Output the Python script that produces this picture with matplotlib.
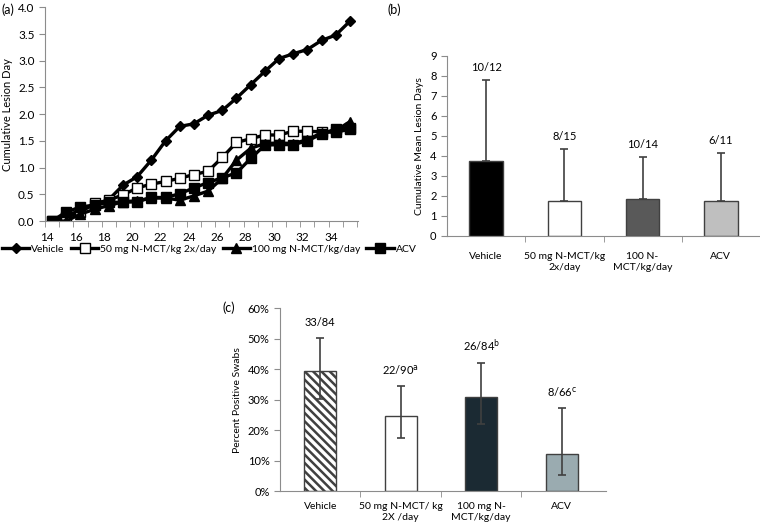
import matplotlib.pyplot as plt
import numpy as np

plt.rcParams['font.family'] = ['Lato', 'DejaVu Sans']
plt.rcParams['hatch.linewidth'] = 1.8
plt.rcParams['hatch.color'] = 'black'

# panel (a) cumulative lesion days
days = np.arange(14, 36)
vehicle_a = [0, 0.1, 0.2, 0.3, 0.4, 0.67, 0.83, 1.14, 1.5, 1.77, 1.82, 1.98, 2.07, 2.3,
             2.55, 2.8, 3.04, 3.13, 3.21, 3.38, 3.48, 3.74]
mct50_a = [0, 0.07, 0.17, 0.33, 0.39, 0.49, 0.62, 0.69, 0.74, 0.8, 0.87, 0.93, 1.19, 1.47,
           1.54, 1.61, 1.61, 1.68, 1.68, 1.67, 1.66, 1.72]
mct100_a = [0, 0.0, 0.13, 0.22, 0.29, 0.36, 0.38, 0.43, 0.43, 0.39, 0.47, 0.56, 0.8, 1.14,
            1.36, 1.45, 1.46, 1.45, 1.52, 1.65, 1.69, 1.86]
acv_a = [0, 0.17, 0.26, 0.3, 0.35, 0.35, 0.36, 0.44, 0.44, 0.51, 0.62, 0.72, 0.81, 0.9,
         1.17, 1.42, 1.43, 1.43, 1.5, 1.63, 1.72, 1.74]
legend_a = ['Vehicle', '50 mg N-MCT/kg 2x/day', '100 mg N-MCT/kg/day', 'ACV']

# panel (b) cumulative mean lesion days
groups_b = ['Vehicle', '50 mg N-MCT/kg\n2x/day', '100 N-\nMCT/kg/day', 'ACV']
mean_b = [3.75, 1.75, 1.85, 1.75]
sd_b = [4.05, 2.6, 2.1, 2.4]
counts_b = ['10/12', '8/15', '10/14', '6/11']

# panel (c) percent positive swabs
groups_c = ['Vehicle', '50 mg N-MCT/ kg\n2X /day', '100 mg N-\nMCT/kg/day', 'ACV']
pct_c = [39.4, 24.5, 31.0, 12.2]
err_lo_c = [9.2, 7.0, 9.0, 7.0]
err_hi_c = [11.0, 10.0, 11.1, 15.1]
counts_c = ['33/84', '22/90$^{\\mathrm{a}}$', '26/84$^{\\mathrm{b}}$', '8/66$^{\\mathrm{c}}$']

axis_col = '#8c8c8c'
fig = plt.figure(figsize=(7.6, 5.25), dpi=100)

# ---- (a)
ax = fig.add_axes([45/760, 1-221/525, 313/760, 213.7/525])
series = [(vehicle_a, 'D', 'black', 5.5), (mct50_a, 's', 'white', 7.5),
          (mct100_a, '^', 'black', 7.5), (acv_a, 's', 'black', 7.5)]
for (vals, mk, fc, ms), lab in zip(series, legend_a):
    ax.plot(days, vals, color='black', lw=2.4, marker=mk, ms=ms, mfc=fc,
            mec='black', mew=1.0, label=lab)
ax.set_xlim(13.53, 35.57)
ax.set_ylim(0, 4.0)
ax.set_yticks(np.arange(0, 4.01, 0.5))
ax.set_yticklabels(['%.1f' % v for v in np.arange(0, 4.01, 0.5)], fontsize=8.5)
ax.set_xticks(days[::2] - 0.35)
ax.set_xticklabels([str(d) for d in days[::2]], fontsize=8.5)
ax.set_xticks(np.arange(13.5, 36, 1), minor=True)
ax.tick_params(axis='x', which='major', length=0, pad=8)
ax.tick_params(axis='x', which='minor', length=4, color=axis_col, direction='out')
ax.tick_params(axis='y', length=4, color=axis_col, direction='out')
for s in ['top', 'right']:
    ax.spines[s].set_visible(False)
for s in ['left', 'bottom']:
    ax.spines[s].set_color(axis_col)
ax.set_ylabel('Cumulative Lesion Day', fontsize=8)
ax.legend(loc='upper left', bbox_to_anchor=(-0.15, -0.09), ncol=4, frameon=False,
          fontsize=7.5, handlelength=2.6, columnspacing=0.6, handletextpad=0.2,
          borderaxespad=0)
fig.text(2/760, 1-14/525, '(a)', fontsize=9)

# ---- (b)
ax = fig.add_axes([447/760, 1-235.7/525, 313/760, 179.7/525])
xb = np.arange(4)
ax.bar(xb, mean_b, width=0.43, color=['black', 'white', '#595959', '#bfbfbf'],
       edgecolor='#404040', lw=1.0)
ax.errorbar(xb, mean_b, yerr=[np.zeros(4), sd_b], fmt='none', ecolor='#404040',
            elinewidth=1.2, capsize=3, capthick=1.2)
for i in range(4):
    ax.text(xb[i], mean_b[i] + sd_b[i] + 0.35, counts_b[i], ha='center', va='bottom',
            fontsize=8)
ax.set_xlim(-0.5, 3.5)
ax.set_ylim(0, 9)
ax.set_yticks(range(10))
ax.tick_params(axis='y', labelsize=8, length=4, color=axis_col)
ax.set_xticks(xb)
ax.set_xticklabels(groups_b, fontsize=7.5, va='top')
ax.set_xticks([0.5, 1.5, 2.5], minor=True)
ax.tick_params(axis='x', which='major', length=0, pad=12)
ax.tick_params(axis='x', which='minor', length=4, color=axis_col)
for s in ['top', 'right']:
    ax.spines[s].set_visible(False)
for s in ['left', 'bottom']:
    ax.spines[s].set_color(axis_col)
ax.set_ylabel('Cumulative Mean Lesion Days', fontsize=7.5)
fig.text(387/760, 1-14/525, '(b)', fontsize=9)

# ---- (c)
ax = fig.add_axes([280/760, 1-491/525, 326/760, 182.7/525])
xc = np.arange(4)
bars = ax.bar(xc, pct_c, width=0.4, color=['white', 'white', '#1b2a33', '#9aabb0'],
              edgecolor='#404040', lw=1.0)
bars[0].set_hatch('\\\\\\\\')
ax.errorbar(xc, pct_c, yerr=[err_lo_c, err_hi_c], fmt='none', ecolor='#404040',
            elinewidth=1.2, capsize=3, capthick=1.2)
for i in range(4):
    ax.text(xc[i], pct_c[i] + err_hi_c[i] + 3.0, counts_c[i], ha='center', va='bottom',
            fontsize=8)
ax.set_xlim(-0.5, 3.55)
ax.set_ylim(0, 60)
ax.set_yticks(range(0, 61, 10))
ax.set_yticklabels(['%d%%' % v for v in range(0, 61, 10)])
ax.tick_params(axis='y', labelsize=8, length=4, color=axis_col)
ax.set_xticks(xc)
ax.set_xticklabels(groups_c, fontsize=7.5, va='top')
ax.set_xticks([0.5, 1.5, 2.5], minor=True)
ax.tick_params(axis='x', which='major', length=0, pad=8)
ax.tick_params(axis='x', which='minor', length=4, color=axis_col)
for s in ['top', 'right']:
    ax.spines[s].set_visible(False)
for s in ['left', 'bottom']:
    ax.spines[s].set_color(axis_col)
ax.set_ylabel('Percent Positive Swabs', fontsize=7.5)
fig.text(222/760, 1-312/525, '(c)', fontsize=9)

fig.savefig('out.png', dpi=100)
